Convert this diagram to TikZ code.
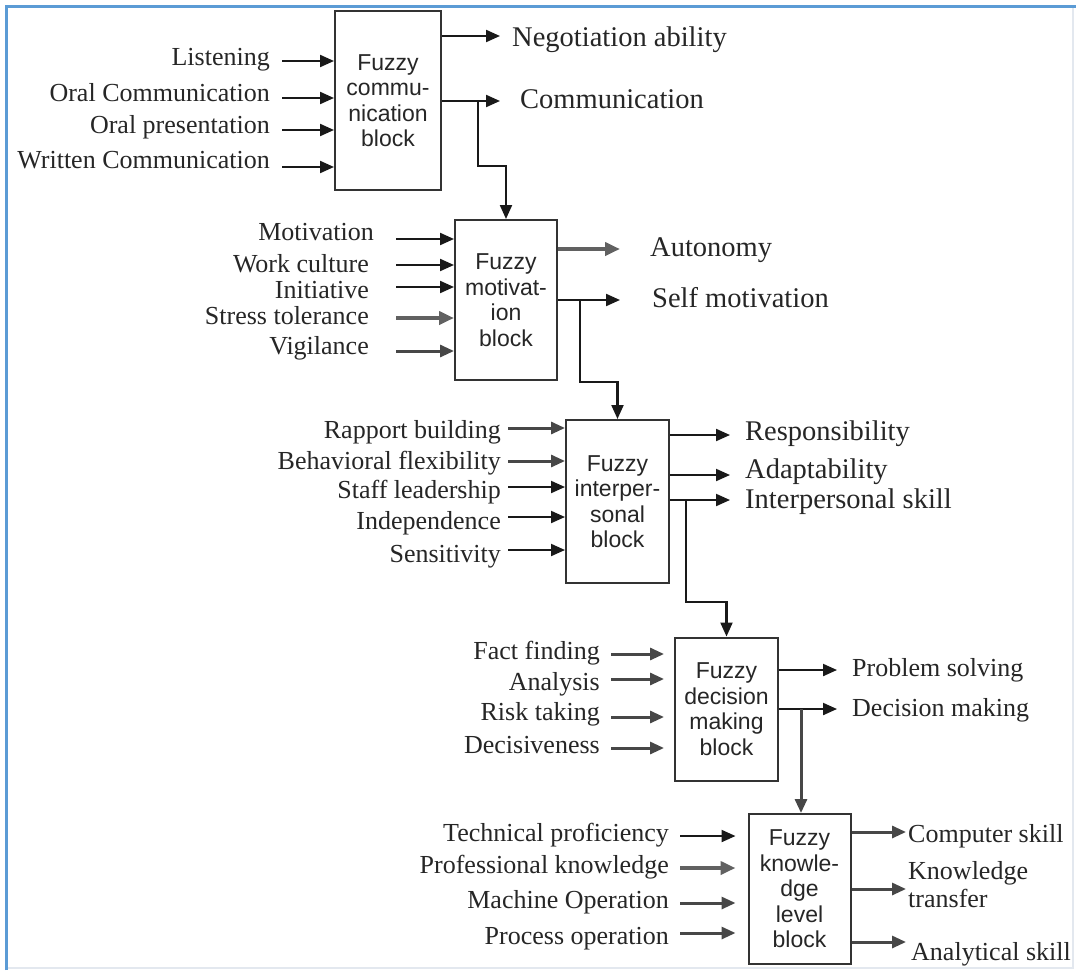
\documentclass[tikz,border=0pt]{standalone}
\usepackage{fontspec}
\setmainfont{Liberation Serif}
\newfontfamily\blockfont{Liberation Sans}
\usetikzlibrary{arrows.meta}
\definecolor{framebl}{HTML}{5B9BD5}
\definecolor{framegr}{HTML}{E3E8EF}
\begin{document}
\begin{tikzpicture}[x=1pt,y=-1pt,
  block/.style={draw=black!80, line width=2pt, fill=white, align=center, inner sep=0pt,
    font=\blockfont\fontsize{23}{25.5}\selectfont, text=black!85},
  arr/.style={line width=2.1pt, draw=black!90, -{Triangle[length=14pt,width=12pt]}},
  midarr/.style={arr, line width=3pt, draw=black!72},
  heavy/.style={arr, line width=4.2pt, draw=black!62, -{Triangle[length=15pt,width=13pt]}},
  inlbl/.style={anchor=mid east, inner sep=0pt, yshift=-5pt, font=\fontsize{26}{30}\selectfont, text=black!85},
  outlbl/.style={anchor=mid west, inner sep=0pt, yshift=-5pt, font=\fontsize{28.5}{32}\selectfont, text=black!85},
  outlbls/.style={outlbl, font=\fontsize{26}{28}\selectfont}
]
\useasboundingbox (0,0) rectangle (1076,970);
\fill[white] (0,0) rectangle (1076,970);

% page frame
\draw[framegr, line width=1.5pt] (1073,8) -- (1073,968) -- (8,968);
\draw[framebl, line width=2.2pt] (6.5,970) -- (6.5,6.5) -- (1076,6.5);

% fuzzy blocks
\node[block, minimum width=106pt, minimum height=179pt] (b1) at (388,100.5) {Fuzzy\\commu-\\nication\\block};
\node[block, minimum width=102pt, minimum height=160pt] (b2) at (506,300) {Fuzzy\\motivat-\\ion\\block};
\node[block, minimum width=103pt, minimum height=163pt] (b3) at (617.5,501.5) {Fuzzy\\interper-\\sonal\\block};
\node[block, minimum width=103pt, minimum height=143pt] (b4) at (726.5,709) {Fuzzy\\decision\\making\\block};
\node[block, minimum width=102pt, minimum height=150pt] (b5) at (799.5,889) {Fuzzy\\knowle-\\dge\\level\\block};

% inputs of the communication block
\foreach \t/\ly/\ay/\s [count=\i] in {Listening/58/61/arr, Oral Communication/94/98/arr,
    Oral presentation/126/130/arr, Written Communication/161/167/arr}{
  \node[inlbl] (ia\i) at (270,\ly) {\t};
  \coordinate (s) at (282,\ay);
  \draw[\s] (s) -- (s -| b1.west);
}
% inputs of the motivation block
\foreach \t/\lx/\ly/\ay/\s [count=\i] in {Motivation/374/233/239/arr, Work culture/369/265/265/arr,
    Initiative/369/291/287/arr, Stress tolerance/369/317/318/heavy, Vigilance/369/347/351/midarr}{
  \node[inlbl] (ib\i) at (\lx,\ly) {\t};
  \coordinate (s) at (396,\ay);
  \draw[\s] (s) -- (s -| b2.west);
}
% inputs of the interpersonal block
\foreach \t/\ly/\ay/\s [count=\i] in {Rapport building/431/428/midarr, Behavioral flexibility/462/461/midarr,
    Staff leadership/491/487/arr, Independence/522/517/arr, Sensitivity/555/550/arr}{
  \node[inlbl] (ic\i) at (501,\ly) {\t};
  \coordinate (s) at (508,\ay);
  \draw[\s] (s) -- (s -| b3.west);
}
% inputs of the decision making block
\foreach \t/\ly/\ay [count=\i] in {Fact finding/652/654, Analysis/683/679,
    Risk taking/713/717, Decisiveness/746/748}{
  \node[inlbl] (id\i) at (600,\ly) {\t};
  \coordinate (s) at (611,\ay);
  \draw[midarr, shorten >=10pt] (s) -- (s -| b4.west);
}
% inputs of the knowledge level block
\foreach \t/\ly/\ay/\s [count=\i] in {Technical proficiency/834/836/arr, Professional knowledge/866/868/heavy,
    Machine Operation/901/903/midarr, Process operation/937/933/midarr}{
  \node[inlbl] (ie\i) at (669,\ly) {\t};
  \coordinate (s) at (680,\ay);
  \draw[\s, shorten >=12pt] (s) -- (s -| b5.west);
}

% outputs
\node[outlbl] (oa1) at (512,39) {Negotiation ability};
\node[outlbl] (oa2) at (520,101) {Communication};
\coordinate (ea1) at (500,36);  \draw[arr] (ea1 -| b1.east) -- (ea1);
\coordinate (ea2) at (500,101); \draw[arr] (ea2 -| b1.east) -- (ea2);

\node[outlbl] (ob1) at (650,249) {Autonomy};
\node[outlbl] (ob2) at (652,300) {Self motivation};
\coordinate (eb1) at (620,249); \draw[heavy] (eb1 -| b2.east) -- (eb1);
\coordinate (eb2) at (620,300); \draw[arr] (eb2 -| b2.east) -- (eb2);

\node[outlbl] (oc1) at (745,433) {Responsibility};
\node[outlbl] (oc2) at (745,471) {Adaptability};
\node[outlbl] (oc3) at (745,501) {Interpersonal skill};
\coordinate (ec1) at (730,435); \draw[arr] (ec1 -| b3.east) -- (ec1);
\coordinate (ec2) at (730,475); \draw[arr] (ec2 -| b3.east) -- (ec2);
\coordinate (ec3) at (730,500); \draw[arr] (ec3 -| b3.east) -- (ec3);

\node[outlbls] (od1) at (852,669) {Problem solving};
\node[outlbls] (od2) at (852,709) {Decision making};
\coordinate (ed1) at (837,670); \draw[arr] (ed1 -| b4.east) -- (ed1);
\coordinate (ed2) at (837,709); \draw[arr] (ed2 -| b4.east) -- (ed2);

\node[outlbls] (oe1) at (908,835) {Computer skill};
\node[outlbls, align=left, font=\fontsize{26}{28}\selectfont] (oe2) at (908,900) {Knowledge\\transfer};
\node[outlbls] (oe3) at (911,953) {Analytical skill};
\coordinate (ee1) at (906,832); \draw[midarr] (ee1 -| b5.east) -- (ee1);
\coordinate (ee2) at (906,889); \draw[midarr] (ee2 -| b5.east) -- (ee2);
\coordinate (ee3) at (906,942); \draw[midarr] (ee3 -| b5.east) -- (ee3);

% links from one block to the next
\coordinate (j1) at (478,101);
\draw[arr] (j1) -- (478,166) -- (506,166) -- (b2.north);
\coordinate (j2) at (580,300);
\draw[arr] (j2) -- (580,382) -- (617.5,382) -- (b3.north);
\coordinate (j3) at (686,500);
\draw[arr] (j3) -- (686,602) -- (726.5,602) -- (b4.north);
\coordinate (j4) at (801,709);
\draw[midarr] (j4) -- (j4 |- b5.north);
\end{tikzpicture}
\end{document}
